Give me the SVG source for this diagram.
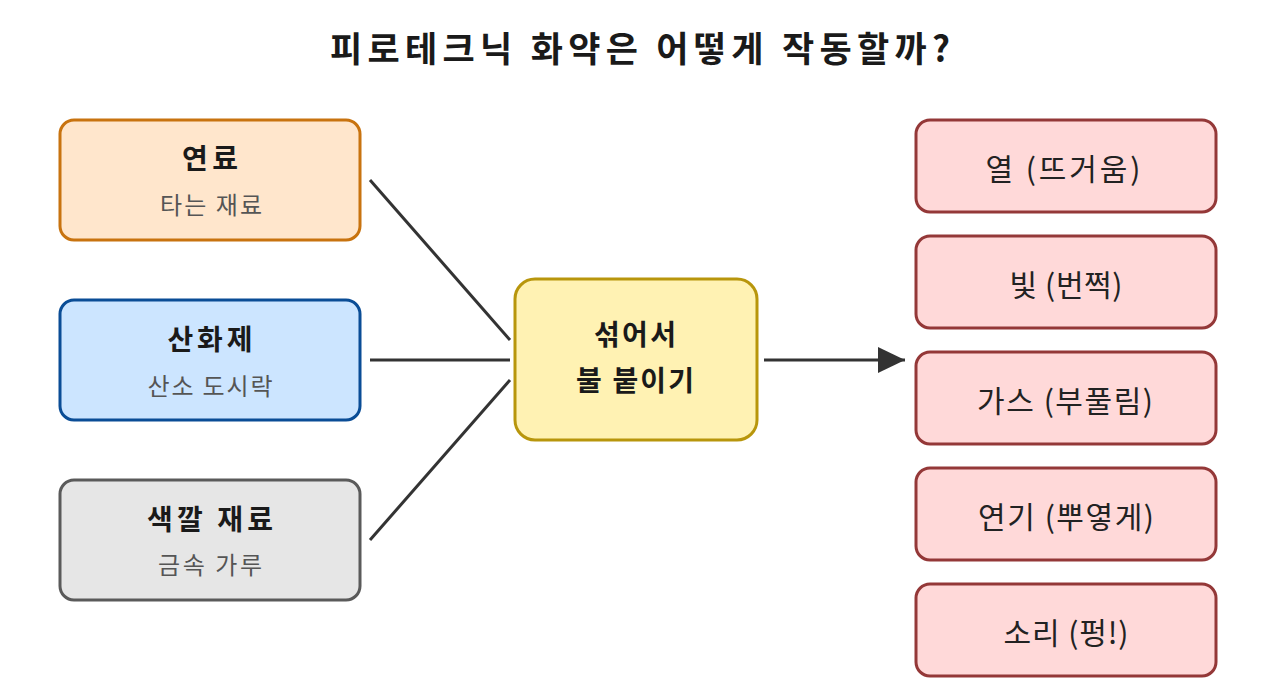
<svg xmlns="http://www.w3.org/2000/svg" width="1280" height="680" viewBox="0 0 1280 680">
<defs>
<style>
text{font-family:"Noto Sans CJK KR","Noto Sans",sans-serif;text-anchor:middle;dominant-baseline:central}
.title{font-size:35px;font-weight:bold;fill:#1a1a1a}
.h{font-size:28px;font-weight:bold;fill:#1a1a1a}
.sub{font-size:24px;fill:#555}
.c{font-size:28px;font-weight:bold;fill:#1a1a1a}
.r{font-size:30px;fill:#222}
.box{stroke-width:3}
.out{fill:#FFD9D9;stroke:#943838;stroke-width:3}
.conn{stroke:#333;stroke-width:3;fill:none}
</style>
<marker id="ah" viewBox="0 0 27 26" refX="27" refY="13" markerWidth="27" markerHeight="26" markerUnits="userSpaceOnUse" orient="auto">
<path d="M0,0 L27,13 L0,26 z" fill="#333"/>
</marker>
</defs>
<rect width="1280" height="680" fill="#fff"/>
<text class="title" x="640" y="46" textLength="620" lengthAdjust="spacing">피로테크닉 화약은 어떻게 작동할까?</text>

<g id="fuel">
<rect class="box" x="60" y="120" width="300" height="120" rx="14" fill="#FFE6CC" stroke="#C8730F"/>
<text class="h" x="210" y="157" textLength="56" lengthAdjust="spacing">연료</text>
<text class="sub" x="211" y="203" textLength="102" lengthAdjust="spacing">타는 재료</text>
</g>
<g id="oxidizer">
<rect class="box" x="60" y="300" width="300" height="120" rx="14" fill="#CCE5FF" stroke="#0A4D96"/>
<text class="h" x="210" y="338" textLength="85" lengthAdjust="spacing">산화제</text>
<text class="sub" x="210" y="384" textLength="125" lengthAdjust="spacing">산소 도시락</text>
</g>
<g id="color">
<rect class="box" x="60" y="480" width="300" height="120" rx="14" fill="#E6E6E6" stroke="#5A5A5A"/>
<text class="h" x="210" y="518" textLength="126" lengthAdjust="spacing">색깔 재료</text>
<text class="sub" x="210" y="563" textLength="104" lengthAdjust="spacing">금속 가루</text>
</g>
<g id="mix">
<rect class="box" x="515" y="279" width="242" height="161" rx="20" fill="#FFF2B3" stroke="#B8960C"/>
<text class="c" x="635" y="333" textLength="82" lengthAdjust="spacing">섞어서</text>
<text class="c" x="635" y="379" textLength="118" lengthAdjust="spacing">불 붙이기</text>
</g>
<g id="heat"><rect class="out" x="916" y="120" width="300" height="92" rx="14"/><text class="r" x="1063" y="167" textLength="155" lengthAdjust="spacing">열 (뜨거움)</text></g>
<g id="light"><rect class="out" x="916" y="236" width="300" height="92" rx="14"/><text class="r" x="1066" y="283" textLength="113" lengthAdjust="spacing">빛 (번쩍)</text></g>
<g id="gas"><rect class="out" x="916" y="352" width="300" height="92" rx="14"/><text class="r" x="1065" y="399" textLength="176" lengthAdjust="spacing">가스 (부풀림)</text></g>
<g id="smoke"><rect class="out" x="916" y="468" width="300" height="92" rx="14"/><text class="r" x="1066" y="515" textLength="176" lengthAdjust="spacing">연기 (뿌옇게)</text></g>
<g id="sound"><rect class="out" x="916" y="584" width="300" height="92" rx="14"/><text class="r" x="1066" y="631" textLength="125" lengthAdjust="spacing">소리 (펑!)</text></g>

<g id="connectors">
<line class="conn" x1="370" y1="180" x2="510" y2="340"/>
<line class="conn" x1="370" y1="360" x2="510" y2="360"/>
<line class="conn" x1="370" y1="540" x2="510" y2="380"/>
<line class="conn" x1="764" y1="360" x2="905" y2="360" marker-end="url(#ah)"/>
</g>
</svg>
